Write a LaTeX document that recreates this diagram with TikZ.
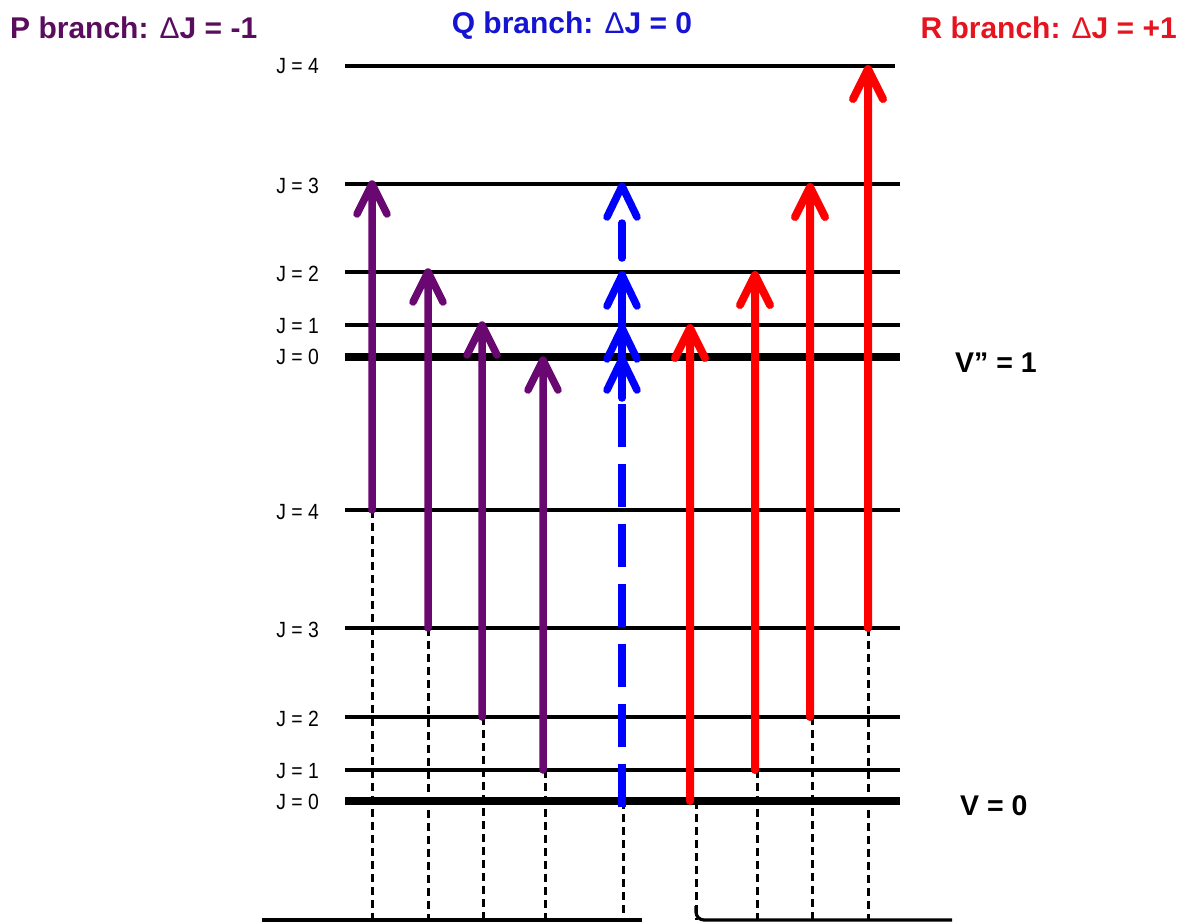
\documentclass[tikz,border=0pt]{standalone}
\usepackage{fontspec}
\setmainfont{Liberation Sans}
\definecolor{pcol}{RGB}{104,8,112}
\definecolor{ptitle}{RGB}{90,12,95}
\definecolor{qcol}{RGB}{0,0,255}
\definecolor{qtitle}{RGB}{20,20,210}
\definecolor{rcol}{RGB}{255,0,0}
\definecolor{rtitle}{RGB}{230,20,30}
\newcommand{\dlt}{{\mdseries Δ}}
\begin{document}
\begin{tikzpicture}[x=1pt,y=-1pt,
  level/.style={line width=3.2pt},
  groundlevel/.style={line width=7.5pt},
  jlabel/.style={anchor=east,inner sep=0pt,font=\fontsize{22}{24}\selectfont,xscale=0.88},
  titletext/.style={inner sep=0pt,font=\fontsize{30}{34}\selectfont\bfseries},
  vlabel/.style={anchor=west,inner sep=0pt,font=\fontsize{28.5}{32}\selectfont\bfseries},
  guide/.style={line width=3pt,dash pattern=on 8pt off 5pt},
  parrow/.style={pcol,line width=7.5pt,line cap=round,line join=round},
  rarrow/.style={rcol,line width=8pt,line cap=round,line join=round},
  qarrow/.style={qcol,line width=7.5pt,line cap=round,line join=round},
  qdash/.style={qcol,line width=7.5pt,dash pattern=on 43pt off 17pt},
  baseline/.style={line width=3.2pt}
]
\useasboundingbox (0,0) rectangle (1181,922);

% titles
\node[titletext,ptitle,anchor=west] (tp) at (10,28) {P branch: \dlt J = -1};
\node[titletext,qtitle] (tq) at (572,26) {Q branch: \dlt J = 0};
\node[titletext,rtitle,anchor=east] (tr) at (1177,28) {R branch: \dlt J = +1};

% upper levels (v''=1)
\coordinate (u4a) at (345,66);  \coordinate (u4b) at (895,66);
\coordinate (u3a) at (345,184); \coordinate (u3b) at (900,184);
\coordinate (u2a) at (345,272); \coordinate (u2b) at (900,272);
\coordinate (u1a) at (345,325); \coordinate (u1b) at (900,325);
\coordinate (u0a) at (345,357); \coordinate (u0b) at (900,357);
% lower levels (v=0)
\coordinate (l4a) at (345,510); \coordinate (l4b) at (900,510);
\coordinate (l3a) at (345,628); \coordinate (l3b) at (900,628);
\coordinate (l2a) at (345,717); \coordinate (l2b) at (900,717);
\coordinate (l1a) at (345,770); \coordinate (l1b) at (900,770);
\coordinate (l0a) at (345,801); \coordinate (l0b) at (900,801);

\draw[level] (u4a) -- (u4b);
\draw[level] (u3a) -- (u3b);
\draw[level] (u2a) -- (u2b);
\draw[level] (u1a) -- (u1b);
\draw[groundlevel] (u0a) -- (u0b);
\draw[level] (l4a) -- (l4b);
\draw[level] (l3a) -- (l3b);
\draw[level] (l2a) -- (l2b);
\draw[level] (l1a) -- (l1b);
\draw[groundlevel] (l0a) -- (l0b);

% J labels
\node[jlabel] (ju4) at (319,66) {J = 4};
\node[jlabel] (ju3) at (319,186) {J = 3};
\node[jlabel] (ju2) at (319,274) {J = 2};
\node[jlabel] (ju1) at (319,326) {J = 1};
\node[jlabel] (ju0) at (319,357) {J = 0};
\node[jlabel] (jl4) at (319,512) {J = 4};
\node[jlabel] (jl3) at (319,630) {J = 3};
\node[jlabel] (jl2) at (319,719) {J = 2};
\node[jlabel] (jl1) at (319,771) {J = 1};
\node[jlabel] (jl0) at (319,802) {J = 0};

\node[vlabel] (v1) at (955,363) {V” = 1};
\node[vlabel] (v0) at (960,806) {V = 0};

% bottom line
\coordinate (bl1) at (262,920); \coordinate (bl2) at (642,920);
\coordinate (br1) at (696,906); \coordinate (br2) at (952,920);
\draw[baseline] (bl1) -- (bl2);
\draw[baseline,rounded corners=8pt] (br1) |- (br2);

% dashed guides
\foreach \gx/\gy/\nm in {372/510/g1,428/628/g2,483/717/g3,545/770/g4,623/801/g5,696/801/g6,757/770/g7,812/717/g8,868/628/g9}{
  \coordinate (\nm s) at (\gx,\gy);
  \coordinate (\nm e) at (\gx,920);
  \draw[guide] (\nm s) -- (\nm e);
}

% P branch arrows
\coordinate (p1s) at (372,510); \coordinate (p1e) at (372,184);
\coordinate (p2s) at (428,628); \coordinate (p2e) at (428,272);
\coordinate (p3s) at (482,717); \coordinate (p3e) at (482,325);
\coordinate (p4s) at (543,770); \coordinate (p4e) at (543,360);
\draw[parrow] (p1s) -- (p1e) -- ++(-15,30) (p1e) -- ++(15,30);
\draw[parrow] (p2s) -- (p2e) -- ++(-15,30) (p2e) -- ++(15,30);
\draw[parrow] (p3s) -- (p3e) -- ++(-15,30) (p3e) -- ++(15,30);
\draw[parrow] (p4s) -- (p4e) -- ++(-15,30) (p4e) -- ++(15,30);

% R branch arrows
\coordinate (r1s) at (690,801); \coordinate (r1e) at (690,328);
\coordinate (r2s) at (755,770); \coordinate (r2e) at (755,275);
\coordinate (r3s) at (810,717); \coordinate (r3e) at (810,187);
\coordinate (r4s) at (868,628); \coordinate (r4e) at (868,69);
\draw[rarrow] (r1s) -- (r1e) -- ++(-15,30) (r1e) -- ++(15,30);
\draw[rarrow] (r2s) -- (r2e) -- ++(-15,30) (r2e) -- ++(15,30);
\draw[rarrow] (r3s) -- (r3e) -- ++(-15,30) (r3e) -- ++(15,30);
\draw[rarrow] (r4s) -- (r4e) -- ++(-15,30) (r4e) -- ++(15,30);

% Q branch (dashed, stacked heads)
\coordinate (qs) at (622,807);
\coordinate (qm) at (622,404);
\coordinate (qh0) at (622,359);
\coordinate (qh1) at (622,328);
\coordinate (qh2) at (622,275);
\coordinate (qd1) at (622,258);
\coordinate (qd2) at (622,223);
\coordinate (qh3) at (622,186);
\draw[qdash] (qs) -- (qm);
\draw[qarrow] (622,398) -- (qh2);
\draw[qarrow] (qd1) -- (qd2);
\foreach \h in {qh0,qh1,qh2,qh3}{
  \draw[qarrow] (\h) -- ++(-15,31) (\h) -- ++(15,31);
}
\end{tikzpicture}
\end{document}
